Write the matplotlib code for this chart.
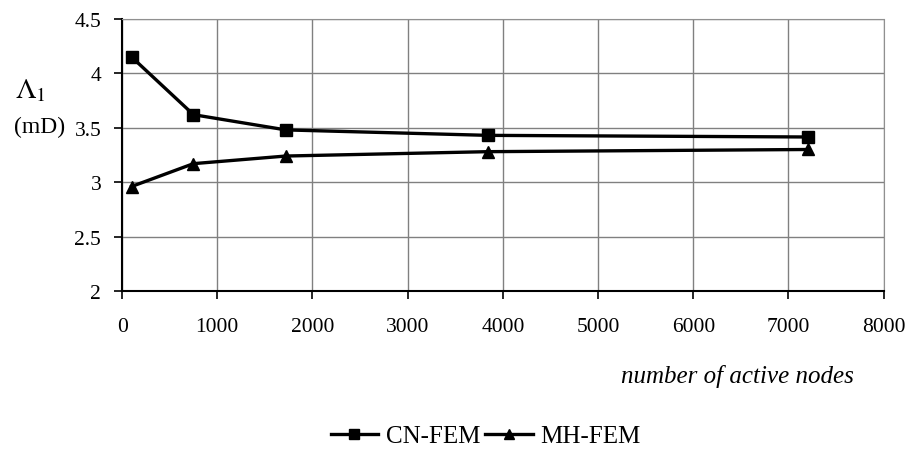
import matplotlib.pyplot as plt

# number of active nodes
nodes = [100, 750, 1720, 3840, 7200]

# Lambda_1 (mD) for each method
cn_fem = [4.15, 3.62, 3.48, 3.43, 3.415]
mh_fem = [2.96, 3.17, 3.24, 3.28, 3.30]

plt.rcParams['font.family'] = ['Liberation Serif', 'DejaVu Serif']
plt.rcParams['mathtext.fontset'] = 'stix'

fig = plt.figure(figsize=(9.11, 4.52), dpi=100)
ax = fig.add_axes([0.134, 0.354, 0.836, 0.602])

ax.plot(nodes, cn_fem, color='black', lw=2.4, marker='s', markersize=9, label='CN-FEM')
ax.plot(nodes, mh_fem, color='black', lw=2.4, marker='^', markersize=9, label='MH-FEM')

ax.set_xlim(0, 8000)
ax.set_ylim(2, 4.5)
ax.set_xticks(range(0, 8001, 1000))
ax.set_yticks([2, 2.5, 3, 3.5, 4, 4.5])
ax.set_yticklabels(['2', '2.5', '3', '3.5', '4', '4.5'])
ax.tick_params(labelsize=15.5, direction='out', length=6, width=1.2, color='black')
ax.tick_params(axis='x', pad=13)
ax.tick_params(axis='y', pad=9)

# grid
ax.grid(True, color='#808080', lw=1)
ax.set_axisbelow(True)
for side in ['top', 'right']:
    ax.spines[side].set_color('#909090')
    ax.spines[side].set_linestyle((0, (1, 1)))
for side in ['left', 'bottom']:
    ax.spines[side].set_color('black')
    ax.spines[side].set_linewidth(1.5)

# y label drawn like the original: symbol above the unit
fig.text(0.034, 0.80, r'$\Lambda_1$', fontsize=21, ha='center', va='center')
fig.text(0.043, 0.719, '(mD)', fontsize=17, ha='center', va='center')

fig.text(0.81, 0.168, 'number of active nodes', fontsize=18, style='italic',
         ha='center', va='center')

fig.legend(loc='center', bbox_to_anchor=(0.533, 0.033), ncol=2, frameon=False,
           fontsize=18, handlelength=1.9, handletextpad=0.3, columnspacing=0.2,
           markerscale=0.85)

fig.savefig('out.png', dpi=100)
